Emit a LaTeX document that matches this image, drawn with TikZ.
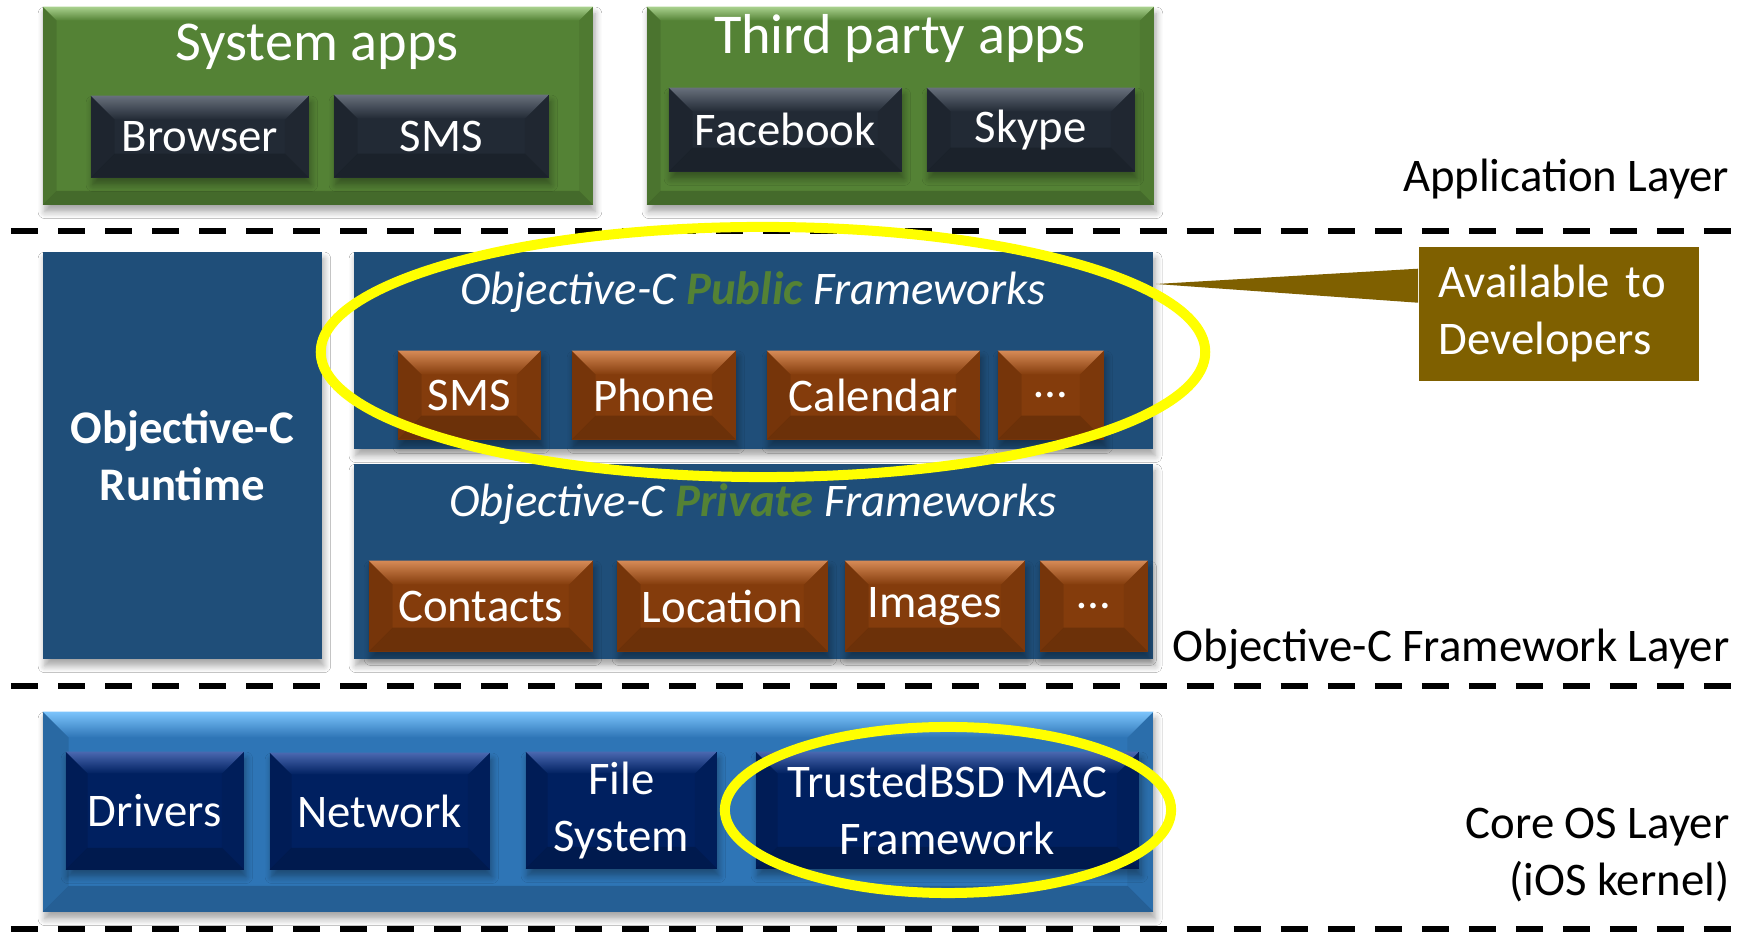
\documentclass[tikz,border=0pt]{standalone}
\usepackage{fontspec}
\setmainfont{Carlito}
\usepackage{tikz}
\usetikzlibrary{shapes.geometric, shadows.blur}

\definecolor{appgreen}{RGB}{84,130,53}
\definecolor{appgreenlt}{RGB}{169,209,142}
\definecolor{slate}{RGB}{34,42,53}
\definecolor{slatelt}{RGB}{104,112,124}
\definecolor{objcblue}{RGB}{31,78,121}
\definecolor{rust}{RGB}{132,60,12}
\definecolor{rustlt}{RGB}{214,138,86}
\definecolor{kernblue}{RGB}{46,117,182}
\definecolor{kernbluelt}{RGB}{124,196,252}
\definecolor{navy}{RGB}{0,32,96}
\definecolor{navylt}{RGB}{74,104,176}
\definecolor{gold}{RGB}{127,96,0}
\definecolor{hilite}{RGB}{255,255,0}

\newcommand\txtsize{\fontsize{13.3}{16.2}\selectfont}
\newcommand\headsize{\fontsize{16}{19.2}\selectfont}

\tikzset{
  % lit top edge, shaded sides and bottom (slide bevel look)
  bevel/.style n args={3}{
    fill=#1,
    path picture={
      \path (path picture bounding box.north west) coordinate (bnw)
            (path picture bounding box.north east) coordinate (bne)
            (path picture bounding box.south west) coordinate (bsw)
            (path picture bounding box.south east) coordinate (bse);
      \shade[top color=#2, bottom color=#1]
        (bnw) -- (bne) -- ([xshift=-#3,yshift=-#3]bne) -- ([xshift=#3,yshift=-#3]bnw) -- cycle;
      \fill[black, opacity=0.18]
        (bsw) -- (bse) -- ([xshift=-#3,yshift=#3]bse) -- ([xshift=#3,yshift=#3]bsw) -- cycle;
      \fill[black, opacity=0.10]
        (bnw) -- ([xshift=#3,yshift=-#3]bnw) -- ([xshift=#3,yshift=#3]bsw) -- (bsw) -- cycle;
      \fill[black, opacity=0.06]
        (bne) -- ([xshift=-#3,yshift=-#3]bne) -- ([xshift=-#3,yshift=#3]bse) -- (bse) -- cycle;
    }},
  softshadow/.style={blur shadow={shadow xshift=0.6pt, shadow yshift=-2pt,
      shadow blur steps=6, shadow opacity=35}},
  tile/.style={anchor=north west, inner sep=0pt, text=white, font=\txtsize, align=center},
  appgroup/.style={tile, bevel={appgreen}{appgreenlt}{0.14cm}, softshadow},
  app/.style={tile, bevel={slate}{slatelt}{0.24cm}, softshadow},
  framework/.style={tile, fill=objcblue, softshadow},
  fwitem/.style={tile, bevel={rust}{rustlt}{0.24cm}, softshadow},
  kernel/.style={tile, bevel={kernblue}{kernbluelt}{0.26cm}, softshadow},
  kernitem/.style={tile, bevel={navy}{navylt}{0.22cm}, softshadow},
  grouptitle/.style={anchor=base, inner sep=0pt, text=white, font=\headsize},
  fwtitle/.style={anchor=base, inner sep=0pt, text=white, font=\txtsize\itshape},
  layername/.style={inner sep=0pt, font=\txtsize},
  devnote/.style={anchor=north west, fill=gold, text=white, font=\txtsize, align=left,
      text width=2.4cm, inner xsep=0.2cm, inner ysep=0pt, minimum height=1.34cm},
  layerline/.style={line width=0.067cm, dash pattern=on 0.27cm off 0.2cm},
  ring/.style={ellipse, draw=hilite, line width=0.1cm, inner sep=0pt},
}

\begin{document}
\begin{tikzpicture}[x=0.01cm, y=-0.01cm]
  \path[use as bounding box, fill=white] (0,0) rectangle (1750,934);

  % application layer
  \node[appgroup, minimum width=5.50cm, minimum height=1.98cm] (sysapps) at (42,6) {};
  \node[grouptitle] (systitle) at (317,61) {System apps};
  \node[app, minimum width=2.18cm, minimum height=0.82cm] (browser) at (90,95) {Browser};
  \node[app, minimum width=2.15cm, minimum height=0.83cm] (smsapp) at (333,94) {SMS};

  \node[appgroup, minimum width=5.07cm, minimum height=1.98cm] (thirdapps) at (646,6) {};
  \node[grouptitle] (thirdtitle) at (900,54) {Third party apps};
  \node[app, minimum width=2.33cm, minimum height=0.84cm] (facebook) at (668,87) {Facebook};
  \node[app, minimum width=2.08cm, minimum height=0.84cm] (skype) at (926,87) {Skype};

  \node[layername, anchor=base east] (applayer) at (1730,192) {Application Layer};
  \draw[layerline] (11,231) -- (1750,231);

  % objective-c framework layer
  \node[framework, font=\txtsize\bfseries, minimum width=2.79cm, minimum height=4.07cm] (runtime) at (42,251)
    {Objective-C\\Runtime};

  \node[framework, minimum width=7.99cm, minimum height=1.97cm] (public) at (353,251) {};
  \node[fwtitle] (pubtitle) at (753,305) {Objective-C \textbf{\color{appgreen}Public} Frameworks};
  \node[fwitem, minimum width=1.43cm, minimum height=0.89cm] (smsfw) at (397,350) {SMS};
  \node[fwitem, minimum width=1.64cm, minimum height=0.89cm] (phone) at (571,350) {Phone};
  \node[fwitem, minimum width=2.13cm, minimum height=0.89cm] (calendar) at (766,350) {Calendar};
  \node[fwitem, minimum width=1.06cm, minimum height=0.89cm] (pubmore) at (997,350) {\dots};

  \node[framework, minimum width=7.99cm, minimum height=1.95cm] (private) at (353,463) {};
  \node[fwtitle] (privtitle) at (753,517) {Objective-C \textbf{\color{appgreen}Private} Frameworks};
  \node[fwitem, minimum width=2.24cm, minimum height=0.91cm] (contacts) at (368,560) {Contacts};
  \node[fwitem, minimum width=2.11cm, minimum height=0.91cm] (location) at (616,560) {Location};
  \node[fwitem, minimum width=1.80cm, minimum height=0.91cm] (images) at (844,560) {Images};
  \node[fwitem, minimum width=1.08cm, minimum height=0.91cm] (privmore) at (1039,560) {\dots};

  \node[layername, anchor=base east] (fwlayer) at (1730,662) {Objective-C Framework Layer};
  \draw[layerline] (11,686) -- (1750,686);

  % core os layer
  \node[kernel, minimum width=11.10cm, minimum height=2.00cm] (core) at (42,711) {};
  \node[kernitem, minimum width=1.78cm, minimum height=1.18cm] (drivers) at (65,751) {Drivers};
  \node[kernitem, minimum width=2.20cm, minimum height=1.17cm] (network) at (269,752) {Network};
  \node[kernitem, minimum width=1.91cm, minimum height=1.17cm] (filesys) at (525,751) {File\\System};
  \node[kernitem, minimum width=3.83cm, minimum height=1.17cm] (trusted) at (755,751) {TrustedBSD MAC\\Framework};

  \node[layername, anchor=east, align=right] (corelayer) at (1730,855) {Core OS Layer\\(iOS kernel)};
  \draw[layerline] (11,929) -- (1750,929);

  % callout and highlights
  \node[devnote] (avail) at (1418,246) {Available to\\Developers};
  \coordinate (devtip) at (1156,284);
  \fill[gold] (devtip) -- ([yshift=0.45cm]avail.west) -- ([yshift=0.11cm]avail.west) -- cycle;

  \node[ring, minimum width=8.84cm, minimum height=2.50cm] (pubring) at (763,352) {};
  \node[ring, minimum width=4.46cm, minimum height=1.66cm] (macring) at (948,810) {};
\end{tikzpicture}
\end{document}
